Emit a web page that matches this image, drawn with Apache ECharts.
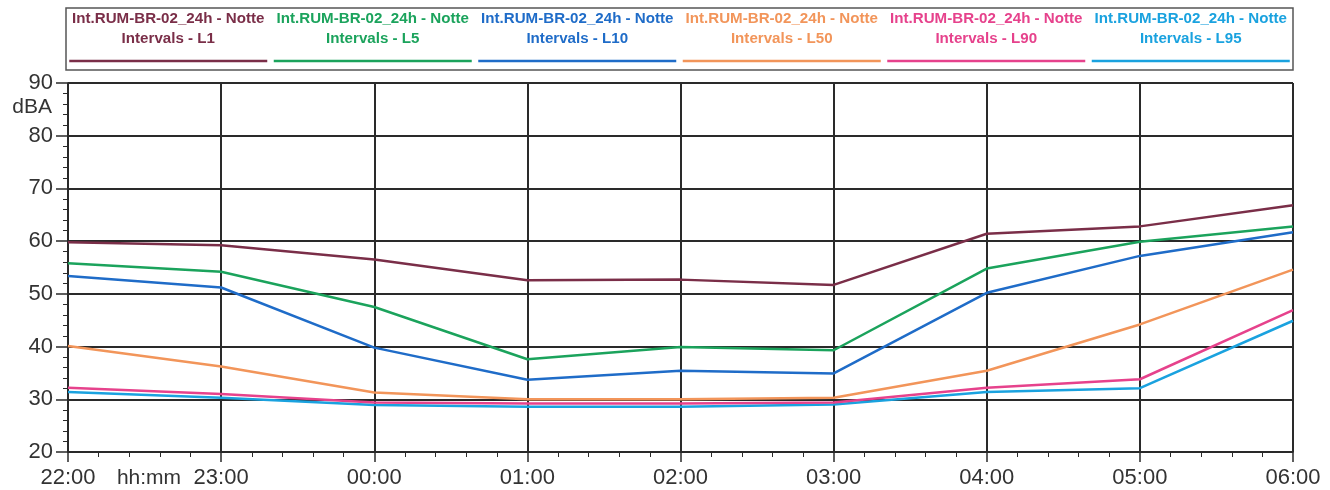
<!DOCTYPE html>
<html>
<head>
<meta charset="utf-8">
<script src="https://cdn.jsdelivr.net/npm/echarts@6/dist/echarts.min.js"></script>
<style>
html,body{margin:0;padding:0;background:#fff;}
#c{width:1330px;height:490px;}
</style>
</head>
<body>
<div id="c"></div>
<script>
const hourLabels = ['22:00','23:00','00:00','01:00','02:00','03:00','04:00','05:00','06:00'];
const seriesNames = ['Int.RUM-BR-02_24h - Notte\nIntervals - L1','Int.RUM-BR-02_24h - Notte\nIntervals - L5','Int.RUM-BR-02_24h - Notte\nIntervals - L10','Int.RUM-BR-02_24h - Notte\nIntervals - L50','Int.RUM-BR-02_24h - Notte\nIntervals - L90','Int.RUM-BR-02_24h - Notte\nIntervals - L95'];
const L1  = [59.8,59.2,56.5,52.6,52.7,51.7,61.4,62.8,66.8];
const L5  = [55.8,54.2,47.5,37.6,39.9,39.3,54.8,59.9,62.8];
const L10 = [53.4,51.2,39.8,33.7,35.4,34.9,50.2,57.2,61.7];
const L50 = [40.1,36.2,31.3,30.0,30.0,30.3,35.4,44.2,54.6];
const L90 = [32.2,31.0,29.4,29.2,29.2,29.4,32.2,33.8,46.9];
const L95 = [31.4,30.3,28.9,28.6,28.6,29.0,31.4,32.1,44.9];
const yTicks = [20,30,40,50,60,70,80,90];
const colors = ['#7a2e48','#1ba35c','#1f6cc8','#f2955a','#e6428c','#1aa2df'];
const allSeries = [L1,L5,L10,L50,L90,L95];

const chart = echarts.init(document.getElementById('c'), null, {renderer:'canvas'});
const axisColor = '#2a2a2a';
const labelColor = '#333';
const fontFam = '"Liberation Sans", Arial, sans-serif';

const boxL = 66, boxR = 1293, boxT = 8, boxB = 70;
const itemW = (boxR - boxL) / 6;
const graphics = [
  {type:'rect', shape:{x:boxL, y:boxT, width:boxR-boxL, height:boxB-boxT}, style:{fill:'#fff', stroke:'#555', lineWidth:1.5}, z:10}
];
seriesNames.forEach((n,i)=>{
  const cx = boxL + itemW*(i+0.5);
  graphics.push({type:'text', x:cx, y:9, scaleX:1.08, style:{text:n, fill:colors[i], font:'bold 14px '+fontFam, textAlign:'center', textVerticalAlign:'top', lineHeight:20}, z:11});
  graphics.push({type:'line', shape:{x1:cx-99, y1:61, x2:cx+99, y2:61}, style:{stroke:colors[i], lineWidth:2.5}, z:11});
});
graphics.push({type:'text', x:52, y:107, style:{text:'dBA', fill:labelColor, font:'21px '+fontFam, textAlign:'right', textVerticalAlign:'middle'}});
graphics.push({type:'text', x:149, y:478, style:{text:'hh:mm', fill:labelColor, font:'21px '+fontFam, textAlign:'center', textVerticalAlign:'middle'}});

chart.setOption({
  backgroundColor:'#fff',
  animation:false,
  grid:{left:68, right:37, top:83, bottom:38},
  xAxis:{
    type:'value', min:0, max:hourLabels.length-1, interval:1,
    axisLine:{show:true, lineStyle:{color:axisColor, width:1.5}},
    axisTick:{show:true, length:10, lineStyle:{color:axisColor, width:1.5}},
    minorTick:{show:true, splitNumber:5, length:5, lineStyle:{color:axisColor, width:1}},
    splitLine:{show:true, lineStyle:{color:axisColor, width:2}},
    axisLabel:{color:labelColor, fontSize:22, fontFamily:fontFam, margin:15, formatter:v=>hourLabels[v]}
  },
  yAxis:{
    type:'value', min:yTicks[0], max:yTicks[yTicks.length-1], interval:10,
    axisLine:{show:true, lineStyle:{color:axisColor, width:1.5}},
    axisTick:{show:true, length:12, lineStyle:{color:axisColor, width:1.5}},
    minorTick:{show:true, splitNumber:5, length:5, lineStyle:{color:axisColor, width:1}},
    splitLine:{show:true, lineStyle:{color:axisColor, width:2}},
    axisLabel:{color:labelColor, fontSize:22, fontFamily:fontFam, margin:15}
  },
  graphic:graphics,
  series: allSeries.map((d,i)=>({
    type:'line', name:seriesNames[i], data:d.map((v,j)=>[j,v]),
    showSymbol:false, symbol:'none', lineStyle:{color:colors[i], width:2.5}, itemStyle:{color:colors[i]}, z:8-i*0.1
  }))
});
</script>
</body>
</html>
